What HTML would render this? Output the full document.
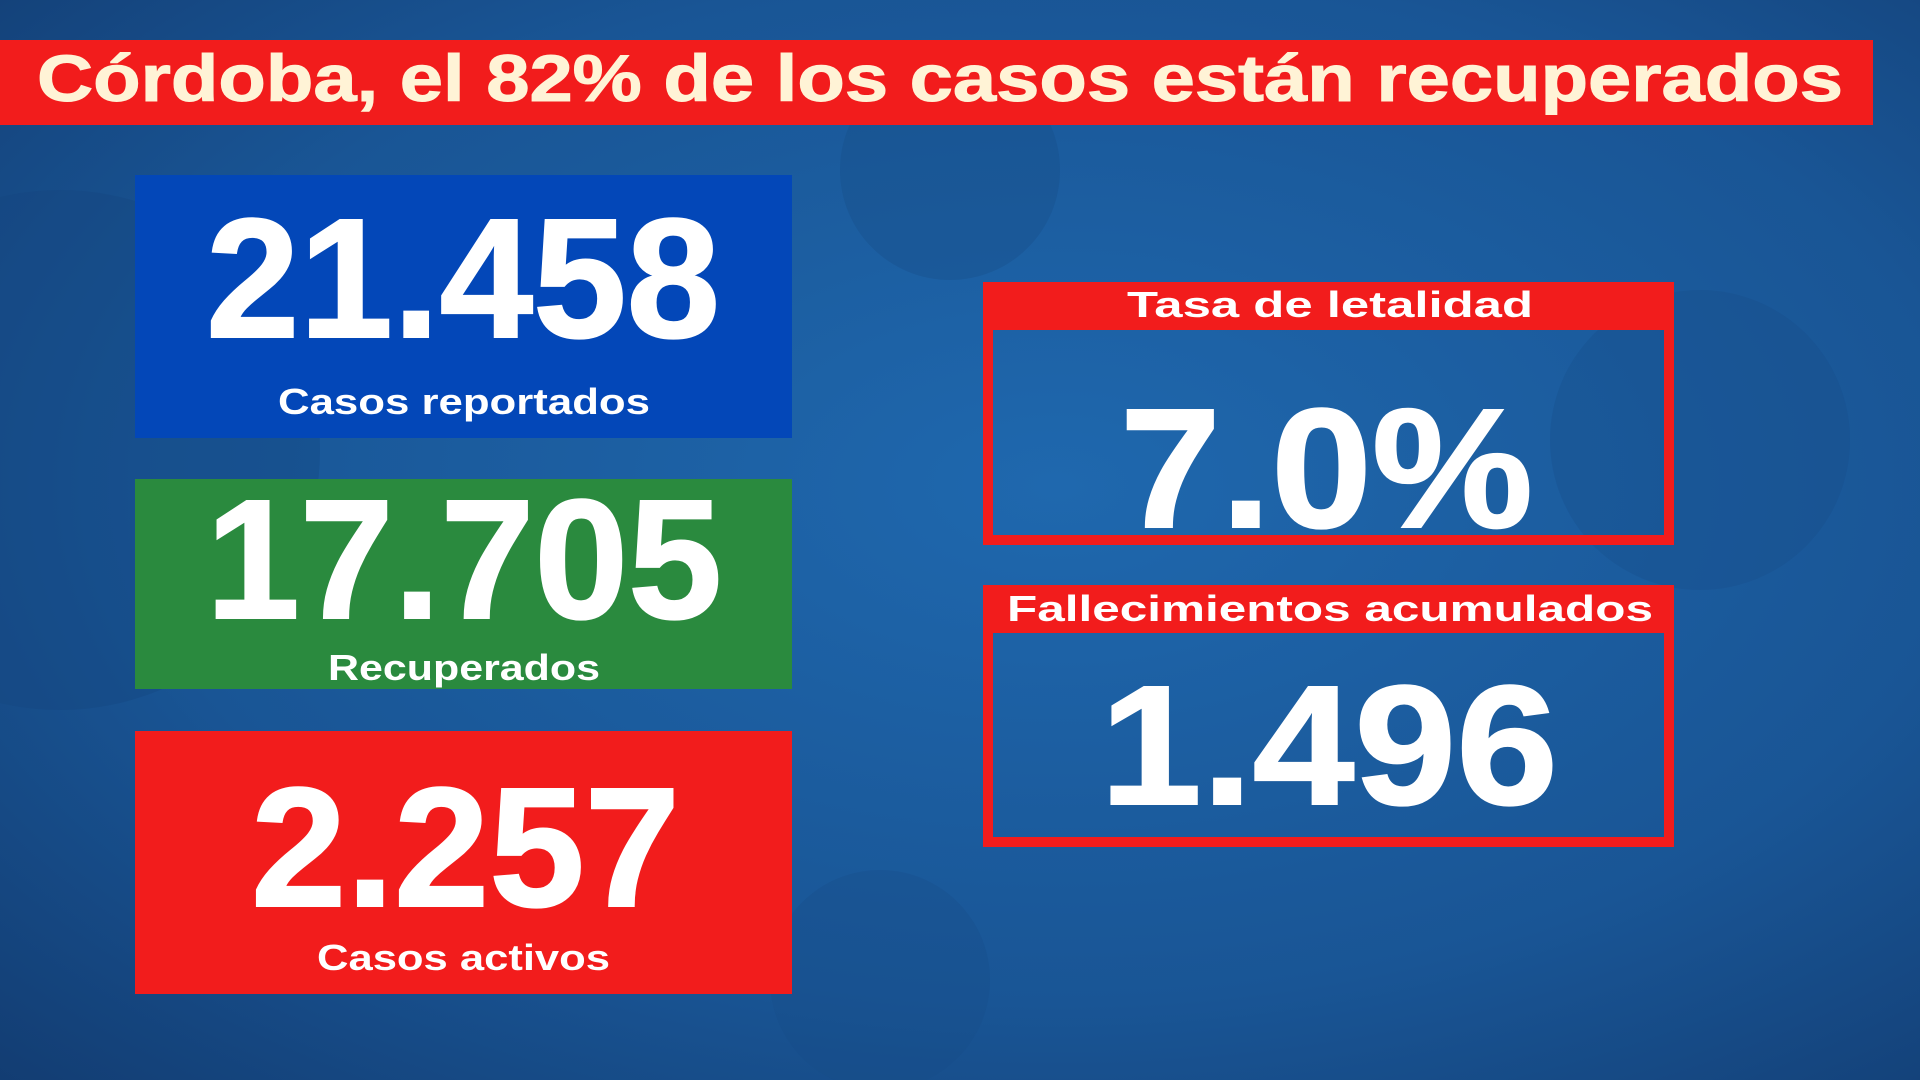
<!DOCTYPE html>
<html><head><meta charset="utf-8"><style>
html,body{margin:0;padding:0;width:1920px;height:1080px;overflow:hidden;background:#1b5c9e}
svg{display:block}
text{font-family:"Liberation Sans",sans-serif;font-weight:bold}
</style></head><body>
<svg width="1920" height="1080" viewBox="0 0 1920 1080">
<defs>
<radialGradient id="bg" cx="0.55" cy="0.45" r="0.8">
<stop offset="0" stop-color="#1f68ae"/>
<stop offset="0.6" stop-color="#195595"/>
<stop offset="1" stop-color="#123b70"/>
</radialGradient>
</defs>
<rect width="1920" height="1080" fill="url(#bg)"/>
<circle cx="950" cy="170" r="110" fill="#174d88" opacity="0.35"/>
<circle cx="1700" cy="440" r="150" fill="#174d88" opacity="0.3"/>
<circle cx="880" cy="980" r="110" fill="#174d88" opacity="0.3"/>
<circle cx="60" cy="450" r="260" fill="#15467f" opacity="0.35"/>
<!-- title -->
<rect x="0" y="40" width="1873" height="85" fill="#f21c1c"/>
<text x="37" y="101" font-size="66" fill="#fff3d6" stroke="#fff3d6" stroke-width="1" textLength="1806" lengthAdjust="spacingAndGlyphs">Córdoba, el 82% de los casos están recuperados</text>
<!-- left boxes -->
<rect x="135" y="175" width="657" height="263" fill="#0347b8"/>
<text x="206" y="337" font-size="170" fill="#fff" stroke="#fff" stroke-width="2" textLength="514" lengthAdjust="spacingAndGlyphs">21.458</text>
<text x="278" y="414" font-size="36" fill="#fff" textLength="372" lengthAdjust="spacingAndGlyphs">Casos reportados</text>
<rect x="135" y="479" width="657" height="210" fill="#2a8a3e"/>
<text x="206" y="618" font-size="170" fill="#fff" stroke="#fff" stroke-width="2" textLength="516" lengthAdjust="spacingAndGlyphs">17.705</text>
<text x="328" y="680" font-size="36" fill="#fff" textLength="272" lengthAdjust="spacingAndGlyphs">Recuperados</text>
<rect x="135" y="731" width="657" height="263" fill="#f21c1c"/>
<text x="251" y="906" font-size="170" fill="#fff" stroke="#fff" stroke-width="2" textLength="429" lengthAdjust="spacingAndGlyphs">2.257</text>
<text x="317" y="970" font-size="36" fill="#fff" textLength="293" lengthAdjust="spacingAndGlyphs">Casos activos</text>
<!-- right boxes -->
<rect x="983" y="282" width="691" height="48" fill="#f21c1c"/>
<rect x="988" y="287" width="681" height="253" fill="none" stroke="#f21c1c" stroke-width="10"/>
<text x="1127" y="317" font-size="36" fill="#fff" textLength="406" lengthAdjust="spacingAndGlyphs">Tasa de letalidad</text>
<text x="1120" y="527" font-size="170" fill="#fff" stroke="#fff" stroke-width="2" textLength="413" lengthAdjust="spacingAndGlyphs">7.0%</text>
<rect x="983" y="585" width="691" height="48" fill="#f21c1c"/>
<rect x="988" y="590" width="681" height="252" fill="none" stroke="#f21c1c" stroke-width="10"/>
<text x="1007" y="621" font-size="36" fill="#fff" textLength="646" lengthAdjust="spacingAndGlyphs">Fallecimientos acumulados</text>
<text x="1100" y="804" font-size="170" fill="#fff" stroke="#fff" stroke-width="2" textLength="458" lengthAdjust="spacingAndGlyphs">1.496</text>
</svg>
</body></html>
